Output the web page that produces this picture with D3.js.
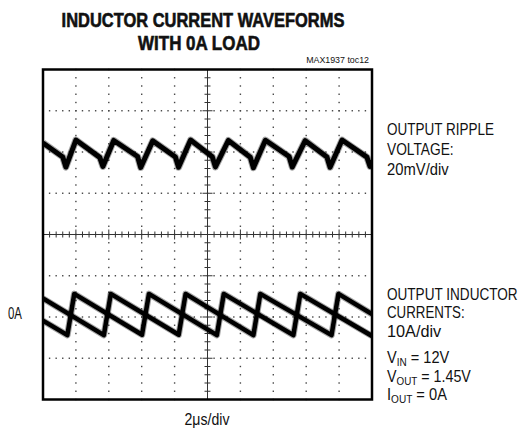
<!DOCTYPE html>
<html>
<head>
<meta charset="utf-8">
<script src="https://cdn.jsdelivr.net/npm/d3@7"></script>
<style>
  body { margin: 0; background: #fff; }
  text { font-family: "Liberation Sans Narrow", "Arial Narrow", "Liberation Sans", Arial, sans-serif; fill: #111; }
</style>
</head>
<body>
<div id="chart-area"></div>
<script>
// scope screen: 10 x 8 divisions, time in us, 2us/div
var timeDomain = [0, 20];
var divDomain = [-4, 4];

// output ripple voltage (mV, relative to its trace centre), 20mV/div
var rippleT = [0, 1.20, 1.39, 2.00, 3.45, 3.64, 4.30, 5.75, 5.94, 6.67, 8.05, 8.24, 8.97, 10.29, 10.48, 11.27,
               12.60, 12.79, 13.52, 14.96, 15.15, 15.94, 17.26, 17.45, 18.18, 19.69, 19.88, 20];
var rippleV = [4.4, -2.4, -7.3, 5.8, -2.6, -7.0, 5.6, -2.2, -7.5, 5.4, -2.4, -7.4, 5.8, -2.3, -7.2, 5.6,
               -2.5, -7.6, 5.7, -2.2, -7.3, 5.5, -2.4, -7.4, 5.8, -2.5, -7.0, -4.0];

// two phase inductor currents (A), 10A/div
var phaseAT = [0, 1.48, 1.90, 6.02, 6.44, 10.57, 10.99, 15.22, 15.64, 20];
var phaseAI = [-1.6, -5.1, 4.9, -5.0, 4.9, -5.1, 4.9, -5.1, 4.9, -5.3];
var phaseBT = [0, 3.70, 4.12, 8.25, 8.67, 12.79, 13.21, 17.54, 17.96, 20];
var phaseBI = [3.8, -5.1, 4.9, -5.0, 4.9, -5.1, 4.9, -5.1, 4.9, 0.0];

var rippleOffset = 2;      // divisions above centre
var currentOffset = -1.93; // divisions, 0A level
var mVperDiv = 20, AperDiv = 10;

var svg = d3.select('#chart-area')
    .append('svg')
        .attr('width', 520)
        .attr('height', 432);

var x = d3.scaleLinear().domain(timeDomain).range([43, 372]);
var y = d3.scaleLinear().domain(divDomain).range([399.5, 69.5]);

// squeeze a text to the width it has in the reference
function fit(t, w) {
    var n = t.node().getComputedTextLength();
    var x0 = +t.attr('x');
    t.attr('transform', 'translate(' + x0 + ',0) scale(' + (w / n) + ',1) translate(' + (-x0) + ',0)');
    return t;
}

// dotted graticule
var grid = svg.append('g').attr('fill', '#444');
d3.range(1, 10).forEach(i => {
    if (i === 5) return;
    var gx = x(i * 2);
    d3.range(-4, 4.01, 0.2).forEach(v => {
        grid.append('rect').attr('x', gx - 0.7).attr('y', y(v) - 0.7).attr('width', 1.4).attr('height', 1.4);
    });
});
d3.range(-3, 4).forEach(j => {
    if (j === 0) return;
    var gy = y(j);
    d3.range(0, 20.01, 0.4).forEach(t => {
        grid.append('rect').attr('x', x(t) - 0.7).attr('y', gy - 0.7).attr('width', 1.4).attr('height', 1.4);
    });
});

// centre cross with minor ticks
var cross = svg.append('g').attr('stroke', '#333').attr('stroke-width', 1);
cross.append('line').attr('x1', x(0)).attr('x2', x(20)).attr('y1', y(0)).attr('y2', y(0));
cross.append('line').attr('x1', x(10)).attr('x2', x(10)).attr('y1', y(-4)).attr('y2', y(4));
d3.range(0, 20.01, 0.4).forEach((t, i) => {
    var h = (i % 5 === 0) ? 5 : 3;
    cross.append('line').attr('x1', x(t)).attr('x2', x(t)).attr('y1', y(0) - h).attr('y2', y(0) + h);
});
d3.range(-4, 4.01, 0.2).forEach((v, i) => {
    var w = (i % 5 === 0) ? 5 : 3;
    cross.append('line').attr('x1', x(10) - w).attr('x2', x(10) + w).attr('y1', y(v)).attr('y2', y(v));
});

// traces
var rippleLine = d3.line()
    .x(d => x(d[0]))
    .y(d => y(rippleOffset + d[1] / mVperDiv));
var currentLine = d3.line()
    .x(d => x(d[0]))
    .y(d => y(currentOffset + d[1] / AperDiv));

var traces = [
    { gen: rippleLine, pts: d3.zip(rippleT, rippleV), w: 5 },
    { gen: currentLine, pts: d3.zip(phaseAT, phaseAI), w: 4.5 },
    { gen: currentLine, pts: d3.zip(phaseBT, phaseBI), w: 4.5 }
];
svg.append('clipPath').attr('id', 'screen')
    .append('rect').attr('x', x(0)).attr('y', y(4)).attr('width', x(20) - x(0)).attr('height', y(-4) - y(4));
var tg = svg.append('g').attr('clip-path', 'url(#screen)');
traces.forEach(tr => {
    tg.append('path')
        .attr('d', tr.gen(tr.pts))
        .attr('fill', 'none')
        .attr('stroke', '#000')
        .attr('stroke-opacity', 0.35)
        .attr('stroke-width', tr.w + 2)
        .attr('stroke-linejoin', 'round');
    tg.append('path')
        .attr('d', tr.gen(tr.pts))
        .attr('fill', 'none')
        .attr('stroke', '#000')
        .attr('stroke-width', tr.w)
        .attr('stroke-linejoin', 'round');
});

// frame
svg.append('rect')
    .attr('x', x(0)).attr('y', y(4))
    .attr('width', x(20) - x(0)).attr('height', y(-4) - y(4))
    .attr('fill', 'none').attr('stroke', '#000').attr('stroke-width', 2.5);

// title
fit(svg.append('text').attr('x', 203).attr('y', 27).attr('text-anchor', 'middle')
    .attr('font-size', '19.5px').attr('font-weight', 'bold')
    .style('stroke', '#111').style('stroke-width', 0.6)
    .text('INDUCTOR CURRENT WAVEFORMS'), 283);
fit(svg.append('text').attr('x', 199).attr('y', 50).attr('text-anchor', 'middle')
    .attr('font-size', '19.5px').attr('font-weight', 'bold')
    .style('stroke', '#111').style('stroke-width', 0.6)
    .text('WITH 0A LOAD'), 122);
fit(svg.append('text').attr('x', 369).attr('y', 63).attr('text-anchor', 'end')
    .attr('font-size', '9px')
    .text('MAX1937 toc12'), 63);

// side labels
var labels = [
    { t: 'OUTPUT RIPPLE', y: 135, w: 107 },
    { t: 'VOLTAGE:', y: 155.5, w: 66.7 },
    { t: '20mV/div', y: 175.5, w: 61.7 },
    { t: 'OUTPUT INDUCTOR', y: 300, w: 130.7 },
    { t: 'CURRENTS:', y: 318.5, w: 77.7 },
    { t: '10A/div', y: 337.5, w: 54.3 }
];
labels.forEach(l => {
    fit(svg.append('text').attr('x', 387).attr('y', l.y).attr('font-size', '16px').text(l.t), l.w);
});
var conds = [
    { s: 'V', sub: 'IN', r: ' = 12V', y: 363.5, w: 62.3 },
    { s: 'V', sub: 'OUT', r: ' = 1.45V', y: 382, w: 84 },
    { s: 'I', sub: 'OUT', r: ' = 0A', y: 400, w: 60 }
];
conds.forEach(c => {
    var t = svg.append('text').attr('x', 387).attr('y', c.y).attr('font-size', '16px');
    t.append('tspan').text(c.s);
    t.append('tspan').attr('font-size', '11px').attr('dy', 3).text(c.sub);
    t.append('tspan').attr('dy', -3).text(c.r);
    fit(t, c.w);
});

fit(svg.append('text').attr('x', 8).attr('y', 319).attr('font-size', '16.5px').text('0A'), 14);
fit(svg.append('text').attr('x', 207).attr('y', 425).attr('text-anchor', 'middle')
    .attr('font-size', '16px').text('2\u03bcs/div'), 45);
</script>
</body>
</html>
